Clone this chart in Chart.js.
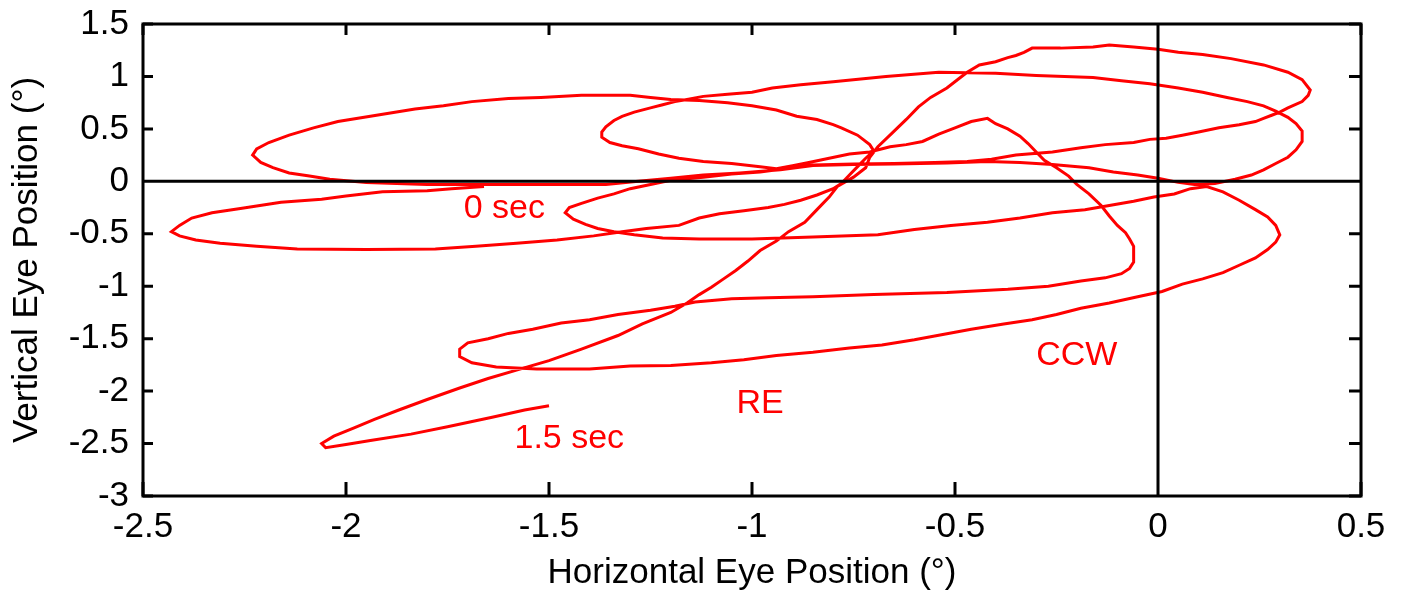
<!DOCTYPE html>
<html>
<head>
<meta charset="utf-8">
<script src="https://cdn.jsdelivr.net/npm/chart.js@4.4.1/dist/chart.umd.min.js"></script>
<style>
  html, body { margin: 0; padding: 0; background: #fff; }
</style>
</head>
<body>
<canvas id="eyeChart" width="1402" height="596"></canvas>
<script>
// eye trace, in time order (0 sec -> 1.5 sec)
const eyeH = [
  -1.66,-1.74,-1.80,-1.91,-2.00,-2.06,-2.16,-2.26,-2.33,-2.38,-2.41,-2.43,
  -2.41,-2.37,-2.31,-2.22,-2.12,-1.95,-1.78,-1.68,-1.58,-1.48,-1.39,-1.32,-1.26,-1.18,-1.13,-1.08,-1.02,-0.96,-0.92,-0.88,-0.84,-0.80,-0.78,
  -0.76,-0.74,-0.72,-0.70,-0.71,-0.74,-0.78,-0.80,-0.84,-0.89,-0.94,-1.00,-1.06,-1.13,-1.20,-1.25,-1.30,-1.42,-1.52,-1.60,-1.69,-1.76,-1.83,-1.94,-2.02,-2.08,-2.14,-2.19,-2.22,-2.23,
  -2.21,-2.18,-2.14,-2.09,-2.04,-1.95,-1.80,-1.60,-1.45,-1.36,-1.28,-1.20,-1.12,-1.03,-0.93,-0.85,-0.75,-0.65,-0.52,-0.42,-0.34,-0.26,-0.17,-0.11,-0.05,0.00,0.05,0.09,0.14,0.19,0.23,0.26,0.29,0.32,0.34,0.355,0.355,0.34,0.32,0.29,
  0.26,0.22,0.17,0.11,0.05,-0.02,-0.09,-0.16,-0.30,-0.40,-0.54,-0.67,-0.80,-0.88,-0.95,-1.00,-1.06,-1.12,
  -1.16,-1.19,-1.22,-1.25,-1.29,-1.32,-1.34,-1.36,-1.37,-1.37,-1.35,-1.32,-1.28,-1.23,-1.18,-1.12,-1.05,-0.98,-0.94,-0.90,-0.86,-0.81,-0.76,-0.71,-0.66,-0.62,-0.58,-0.54,-0.50,-0.46,-0.42,
  -0.40,-0.37,-0.34,-0.32,-0.30,-0.28,-0.25,-0.22,-0.20,-0.17,-0.14,-0.12,-0.10,-0.08,-0.07,-0.06,-0.06,-0.06,-0.07,-0.09,-0.13,-0.19,-0.27,-0.37,-0.52,-0.70,-0.85,-0.96,-1.05,-1.14,-1.19,-1.25,-1.33,-1.40,-1.47,-1.54,-1.60,-1.65,-1.70,-1.72,-1.72,-1.69,-1.63,-1.53,-1.40,-1.30,-1.20,-1.10,-1.02,-0.94,-0.85,-0.76,-0.68,-0.60,-0.53,-0.46,-0.38,-0.31,-0.25,-0.19,-0.12,-0.05,0.01,0.06,0.11,0.16,0.20,0.24,0.27,0.29,0.30,
  0.29,0.27,0.24,0.20,0.16,0.12,0.08,0.04,-0.01,-0.06,-0.12,-0.18,-0.26,-0.34,-0.42,-0.51,-0.60,-0.69,-0.85,-1.00,-1.13,-1.22,-1.29,-1.34,-1.38,-1.41,-1.44,-1.46,
  -1.45,-1.42,-1.38,-1.34,-1.30,-1.25,-1.20,-1.12,-1.05,-0.98,-0.92,-0.85,-0.75,-0.65,-0.55,-0.47,-0.41,-0.35,-0.26,-0.19,-0.13,-0.06,-0.02,0.02,0.06,0.10,0.15,0.20,0.24,0.26,0.28,0.30,0.32,0.355,0.37,0.375,
  0.355,0.32,0.26,0.18,0.11,0.05,0.00,-0.06,-0.12,-0.16,-0.24,-0.31,-0.33,-0.35,-0.37,-0.40,-0.44,-0.47,-0.49,-0.52,-0.56,-0.59,-0.62,-0.655,-0.69,-0.71,-0.72,-0.75,-0.79,-0.81,-0.84,-0.87,-0.91,-0.94,-0.98,-1.01,-1.04,-1.07,-1.10,-1.13,-1.16,-1.20,-1.27,-1.33,-1.42,-1.50,-1.58,-1.65,-1.72,-1.80,-1.87,-1.93,-1.98,-2.03,-2.06,-2.05,-2.00,-1.94,-1.84,-1.75,-1.64,-1.56,-1.50
];
const eyeV = [
  -0.05,-0.07,-0.09,-0.10,-0.14,-0.17,-0.20,-0.26,-0.30,-0.35,-0.42,-0.48,
  -0.52,-0.56,-0.59,-0.62,-0.645,-0.65,-0.645,-0.62,-0.59,-0.56,-0.52,-0.48,-0.45,-0.42,-0.35,-0.31,-0.28,-0.25,-0.22,-0.18,-0.13,-0.07,-0.02,
  0.06,0.14,0.22,0.29,0.35,0.44,0.51,0.54,0.59,0.62,0.68,0.72,0.75,0.77,0.78,0.80,0.82,0.82,0.80,0.79,0.76,0.72,0.69,0.62,0.57,0.51,0.44,0.37,0.31,0.25,
  0.18,0.13,0.08,0.05,0.02,-0.01,-0.03,-0.03,-0.03,-0.03,0.00,0.03,0.06,0.08,0.11,0.15,0.16,0.165,0.175,0.19,0.18,0.16,0.13,0.09,0.06,0.03,-0.01,-0.03,-0.02,0.02,0.06,0.11,0.17,0.23,0.30,0.38,0.48,0.55,0.61,0.67,
  0.72,0.76,0.80,0.85,0.89,0.93,0.96,0.99,1.01,1.03,1.04,1.00,0.95,0.92,0.89,0.85,0.83,0.81,
  0.78,0.76,0.73,0.70,0.66,0.62,0.58,0.52,0.47,0.42,0.37,0.34,0.31,0.26,0.22,0.19,0.17,0.14,0.12,0.15,0.18,0.22,0.26,0.28,0.33,0.35,0.38,0.45,0.51,0.57,0.60,
  0.55,0.50,0.43,0.36,0.28,0.20,0.13,0.05,-0.03,-0.12,-0.23,-0.33,-0.42,-0.49,-0.55,-0.62,-0.70,-0.77,-0.83,-0.88,-0.92,-0.95,-1.00,-1.03,-1.06,-1.08,-1.10,-1.11,-1.12,-1.15,-1.19,-1.23,-1.27,-1.32,-1.35,-1.41,-1.45,-1.50,-1.54,-1.60,-1.67,-1.73,-1.77,-1.79,-1.79,-1.76,-1.755,-1.73,-1.70,-1.66,-1.63,-1.59,-1.56,-1.51,-1.46,-1.41,-1.36,-1.32,-1.27,-1.21,-1.16,-1.10,-1.05,-0.98,-0.93,-0.87,-0.80,-0.73,-0.65,-0.58,-0.51,
  -0.42,-0.34,-0.27,-0.18,-0.10,-0.05,-0.07,-0.12,-0.15,-0.19,-0.23,-0.27,-0.30,-0.35,-0.39,-0.42,-0.46,-0.51,-0.53,-0.55,-0.55,-0.54,-0.51,-0.48,-0.45,-0.41,-0.36,-0.30,
  -0.25,-0.21,-0.16,-0.12,-0.07,-0.03,0.01,0.04,0.07,0.09,0.12,0.155,0.165,0.17,0.18,0.19,0.21,0.25,0.28,0.32,0.35,0.37,0.40,0.41,0.44,0.47,0.51,0.54,0.57,0.60,0.63,0.66,0.70,0.76,0.82,0.87,
  0.97,1.04,1.11,1.17,1.21,1.23,1.26,1.28,1.30,1.28,1.27,1.27,1.23,1.20,1.18,1.14,1.11,1.04,0.98,0.89,0.80,0.71,0.59,0.46,0.33,0.23,0.13,0.04,-0.05,-0.15,-0.27,-0.39,-0.48,-0.57,-0.66,-0.76,-0.85,-0.93,-1.01,-1.08,-1.16,-1.25,-1.36,-1.47,-1.60,-1.71,-1.80,-1.88,-1.97,-2.08,-2.18,-2.27,-2.35,-2.43,-2.50,-2.54,-2.51,-2.47,-2.41,-2.34,-2.25,-2.18,-2.14
];

const xTicks = [-2.5, -2, -1.5, -1, -0.5, 0, 0.5];
const yTicks = [-3, -2.5, -2, -1.5, -1, -0.5, 0, 0.5, 1, 1.5];

const noteText = ["0 sec", "1.5 sec", "RE", "CCW"];
const noteH = [-1.61, -1.45, -0.98, -0.20];
const noteV = [-0.26, -2.45, -2.12, -1.66];

const FONT = "'Liberation Sans', Arial, sans-serif";

const points = eyeH.map((h, i) => ({ x: h, y: eyeV[i] }));

const frameTicks = {
  id: "frameTicks",
  afterDatasetsDraw(chart) {
    const { ctx, chartArea: a, scales: { x, y } } = chart;
    ctx.save();
    ctx.strokeStyle = "#000";
    ctx.lineWidth = 3;
    ctx.lineCap = "butt";
    ctx.beginPath();
    // zero lines
    const x0 = x.getPixelForValue(0);
    const y0 = y.getPixelForValue(0);
    ctx.moveTo(x0, a.top); ctx.lineTo(x0, a.bottom);
    ctx.moveTo(a.left, y0); ctx.lineTo(a.right, y0);
    // inward ticks on all sides
    xTicks.forEach(v => {
      const px = x.getPixelForValue(v);
      ctx.moveTo(px, a.top); ctx.lineTo(px, a.top + 11);
      ctx.moveTo(px, a.bottom); ctx.lineTo(px, a.bottom - 14);
    });
    yTicks.forEach(v => {
      const py = y.getPixelForValue(v);
      ctx.moveTo(a.left, py); ctx.lineTo(a.left + 10, py);
      ctx.moveTo(a.right, py); ctx.lineTo(a.right - 12, py);
    });
    ctx.stroke();
    ctx.strokeRect(a.left, a.top, a.right - a.left, a.bottom - a.top);

    // notes
    ctx.fillStyle = "#ff0000";
    ctx.font = "34px " + FONT;
    ctx.textAlign = "center";
    ctx.textBaseline = "middle";
    noteText.forEach((t, i) => {
      ctx.fillText(t, x.getPixelForValue(noteH[i]), y.getPixelForValue(noteV[i]));
    });
    ctx.restore();
  }
};

const fmt = v => String(Math.round(v * 10) / 10);

new Chart(document.getElementById("eyeChart").getContext("2d"), {
  type: "scatter",
  data: {
    datasets: [
      {
        label: "RE",
        data: points,
        showLine: true,
        borderColor: "#ff0000",
        borderWidth: 3,
        pointRadius: 0,
        tension: 0,
        fill: false,
      },
    ],
  },
  options: {
    responsive: false,
    animation: false,
    devicePixelRatio: 1,
    layout: { padding: { left: 0, right: 41, top: 24, bottom: 0 } },
    plugins: { legend: { display: false }, tooltip: { enabled: false } },
    scales: {
      x: {
        type: "linear",
        min: -2.5,
        max: 0.5,
        afterFit: s => { s.height = 100; s.paddingLeft = 0; s.paddingRight = 0; },
        afterBuildTicks: s => { s.ticks = xTicks.map(v => ({ value: v })); },
        grid: { display: false, drawTicks: false },
        border: { display: false },
        ticks: { color: "#000", font: { family: FONT, size: 35 }, padding: 10, callback: fmt, maxRotation: 0 },
        title: { display: true, text: "Horizontal Eye Position (°)", color: "#000", font: { family: FONT, size: 35 }, padding: { top: 0, bottom: 2 } },
      },
      y: {
        type: "linear",
        min: -3,
        max: 1.5,
        afterFit: s => { s.width = 143; s.paddingTop = 0; s.paddingBottom = 0; },
        afterBuildTicks: s => { s.ticks = yTicks.map(v => ({ value: v })); },
        grid: { display: false, drawTicks: false },
        border: { display: false },
        ticks: { color: "#000", font: { family: FONT, size: 35 }, padding: 14, callback: fmt },
        title: { display: true, text: "Vertical Eye Position (°)", color: "#000", font: { family: FONT, size: 35 }, padding: { top: 6, bottom: 0 } },
      },
    },
  },
  plugins: [frameTicks],
});
</script>
</body>
</html>
